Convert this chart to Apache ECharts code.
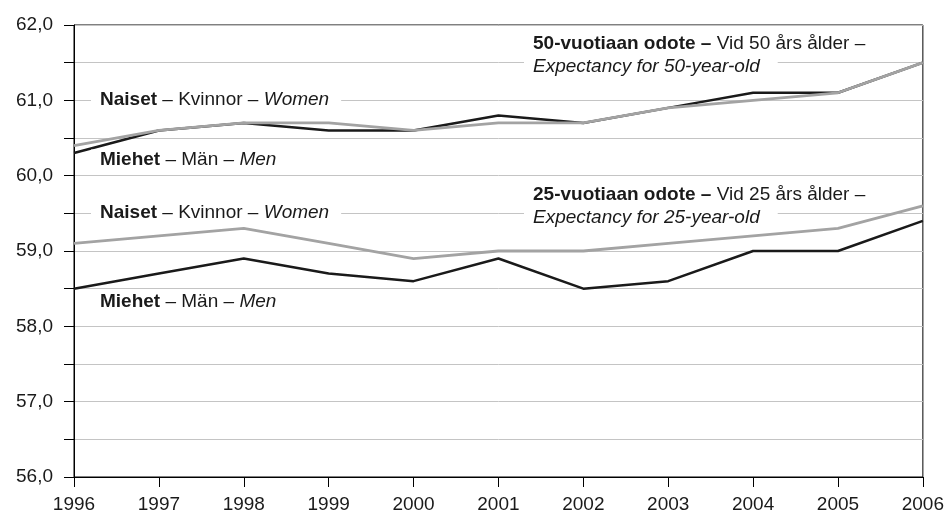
<!DOCTYPE html>
<html><head><meta charset="utf-8">
<script src="https://cdn.jsdelivr.net/npm/echarts@6/dist/echarts.min.js"></script>
<style>html,body{margin:0;padding:0;background:#fff}#c{width:947px;height:514px}</style>
</head><body><div id="c"></div>
<script>
const years = ['1996','1997','1998','1999','2000','2001','2002','2003','2004','2005','2006'];
const men50   = [60.3, 60.6, 60.7, 60.6, 60.6, 60.8, 60.7, 60.9, 61.1, 61.1, 61.5];
const women50 = [60.4, 60.6, 60.7, 60.7, 60.6, 60.7, 60.7, 60.9, 61.0, 61.1, 61.5];
const men25   = [58.5, 58.7, 58.9, 58.7, 58.6, 58.9, 58.5, 58.6, 59.0, 59.0, 59.4];
const women25 = [59.1, 59.2, 59.3, 59.1, 58.9, 59.0, 59.0, 59.1, 59.2, 59.3, 59.6];

const FF = 'Liberation Sans, Arial, sans-serif';
const FS = 19;
const TXT = '#1a1a1a';
const rich = {
  b: {fontFamily: FF, fontSize: FS, fontWeight: 'bold', fill: TXT, color: TXT},
  r: {fontFamily: FF, fontSize: FS, fill: TXT, color: TXT},
  i: {fontFamily: FF, fontSize: FS, fontStyle: 'italic', fill: TXT, color: TXT}
};
function label(x, y, text, pad) {
  return {
    type: 'text', x: x, y: y, z: 50,
    style: {
      text: text, rich: rich, font: FS + 'px ' + FF, fill: TXT,
      textAlign: 'left', textVerticalAlign: 'middle',
      backgroundColor: '#fff', padding: pad || [1, 12, 1, 9]
    }
  };
}

const chart = echarts.init(document.getElementById('c'));
chart.setOption({
  animation: false,
  backgroundColor: '#fff',
  grid: {left: 74, right: 22, top: 25, bottom: 37, show: true, borderColor: '#000', borderWidth: 1, backgroundColor: 'transparent'},
  xAxis: {
    type: 'category', data: years, boundaryGap: false,
    axisLine: {lineStyle: {color: '#000', width: 1}},
    axisTick: {show: true, length: 10, lineStyle: {color: '#000'}},
    axisLabel: {color: TXT, fontFamily: FF, fontSize: 19, margin: 18},
    splitLine: {show: false}
  },
  yAxis: {
    type: 'value', min: 56, max: 62, interval: 0.5,
    axisLine: {show: true, lineStyle: {color: '#000', width: 1}},
    axisTick: {show: true, length: 10, lineStyle: {color: '#000'}},
    axisLabel: {
      color: TXT, fontFamily: FF, fontSize: 19, margin: 21,
      formatter: v => (Math.abs(v - Math.round(v)) < 1e-6) ? v.toFixed(1).replace('.', ',') : ''
    },
    splitLine: {show: true, lineStyle: {color: '#c4c4c4', width: 1}}
  },
  series: [
    {type: 'line', data: men50, symbol: 'none', lineStyle: {color: '#1a1a1a', width: 2.5}, z: 3},
    {type: 'line', data: women50, symbol: 'none', lineStyle: {color: '#a3a3a3', width: 2.8}, z: 4},
    {type: 'line', data: men25, symbol: 'none', lineStyle: {color: '#1a1a1a', width: 2.5}, z: 3},
    {type: 'line', data: women25, symbol: 'none', lineStyle: {color: '#a3a3a3', width: 2.8}, z: 4}
  ],
  graphic: [
    label(91, 100, '{b|Naiset}{r| – Kvinnor – }{i|Women}'),
    label(91, 160, '{b|Miehet}{r| – Män – }{i|Men}'),
    label(91, 213, '{b|Naiset}{r| – Kvinnor – }{i|Women}'),
    label(91, 302, '{b|Miehet}{r| – Män – }{i|Men}'),
    label(524, 44, '{b|50-vuotiaan odote –}{r| Vid 50 års ålder –}'),
    label(524, 67, '{i|Expectancy for 50-year-old}', [1, 18, 1, 9]),
    label(524, 195, '{b|25-vuotiaan odote –}{r| Vid 25 års ålder –}'),
    label(524, 218, '{i|Expectancy for 25-year-old}', [1, 18, 1, 9])
  ]
});
</script></body></html>
